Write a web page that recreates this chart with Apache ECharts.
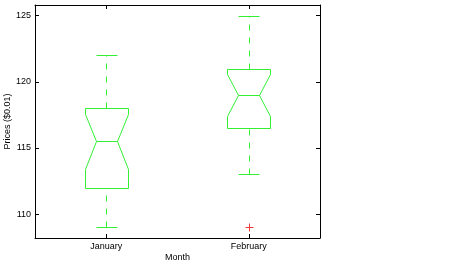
<!DOCTYPE html>
<html>
<head>
<meta charset="utf-8">
<script src="https://cdn.jsdelivr.net/npm/echarts@6/dist/echarts.min.js"></script>
<style>
  html, body { margin: 0; padding: 0; background: #fff; }
  #chart { width: 465px; height: 265px; }
</style>
</head>
<body>
<div id="chart"></div>
<script>
// Monthly price distribution (notched box plot)
const months        = ['January', 'February'];
const lowerWhisker  = [109, 113];
const q1            = [112, 116.5];
const notchLow      = [113.4, 117.4];
const medians       = [115.5, 119];
const notchHigh     = [117.6, 120.6];
const q3            = [118, 121];
const upperWhisker  = [122, 125];
// outliers: [month index, price]
const outliers      = [[1, 109]];
const yTicks        = [110, 115, 120, 125];

const GREEN = '#33f033';
const RED = '#f03a3a';
const FONT = 'Liberation Sans, Arial, sans-serif';

const boxData = months.map((m, i) => [i, lowerWhisker[i], q1[i], notchLow[i], medians[i], notchHigh[i], q3[i], upperWhisker[i]]);

const snap = v => Math.round(v) + 0.5;

function renderBox(params, api) {
  const idx = api.value(0);
  const band = api.size([1, 0])[0];
  const w = band * 0.15;
  const cx = api.coord([idx, 0])[0];
  const y = k => snap(api.coord([idx, api.value(k)])[1]);
  const yLw = y(1), yQ1 = y(2), yNl = y(3), yMed = y(4), yNh = y(5), yQ3 = y(6), yUw = y(7);
  const xl = snap(cx - w), xr = snap(cx + w);
  const xnl = snap(cx - w / 2), xnr = snap(cx + w / 2);
  const xc = snap(cx);
  const solid = { stroke: GREEN, lineWidth: 1, fill: null };
  const dashed = { stroke: GREEN, lineWidth: 1, lineDash: [6, 7] };
  return {
    type: 'group',
    children: [
      { type: 'polygon', shape: { points: [
          [xl, yQ1], [xl, yNl], [xnl, yMed], [xl, yNh], [xl, yQ3],
          [xr, yQ3], [xr, yNh], [xnr, yMed], [xr, yNl], [xr, yQ1]
        ] }, style: solid },
      { type: 'line', shape: { x1: xnl, y1: yMed, x2: xnr, y2: yMed }, style: solid },
      // whiskers drawn upward from their lower end
      { type: 'line', shape: { x1: xc, y1: yLw, x2: xc, y2: yQ1 }, style: dashed },
      { type: 'line', shape: { x1: xc, y1: yQ3, x2: xc, y2: yUw }, style: dashed },
      { type: 'line', shape: { x1: xnl, y1: yLw, x2: xnr, y2: yLw }, style: solid },
      { type: 'line', shape: { x1: xnl, y1: yUw, x2: xnr, y2: yUw }, style: solid }
    ]
  };
}

function renderOutlier(params, api) {
  const p = api.coord([api.value(0), api.value(1)]);
  const x = snap(p[0]), y = snap(p[1]), r = 4;
  const st = { stroke: RED, lineWidth: 1 };
  return {
    type: 'group',
    children: [
      { type: 'line', shape: { x1: x - r, y1: y, x2: x + r, y2: y }, style: st },
      { type: 'line', shape: { x1: x, y1: y - r, x2: x, y2: y + r }, style: st }
    ]
  };
}

const chart = echarts.init(document.getElementById('chart'), null, { renderer: 'canvas' });
const axisLine = { show: true, onZero: false, lineStyle: { color: '#000', width: 1 } };
const tickInside = { show: true, inside: true, length: 4, lineStyle: { color: '#000' } };
chart.setOption({
  animation: false,
  backgroundColor: '#fff',
  textStyle: { fontFamily: FONT },
  grid: { left: 35, top: 5, width: 285, height: 233, containLabel: false, outerBoundsMode: 'none' },
  xAxis: [
    {
      type: 'category', data: months, position: 'bottom',
      name: 'Month', nameLocation: 'middle', nameGap: 15, nameMoveOverlap: false,
      nameTextStyle: { color: '#000', fontSize: 9, fontFamily: FONT },
      axisLine, axisTick: Object.assign({ alignWithLabel: true }, tickInside),
      axisLabel: { color: '#000', fontSize: 9, fontFamily: FONT, margin: 4 },
      splitLine: { show: false }
    },
    {
      type: 'category', data: months, position: 'top',
      axisLine, axisTick: Object.assign({ alignWithLabel: true }, tickInside),
      axisLabel: { show: false }, splitLine: { show: false }
    }
  ],
  yAxis: [
    {
      type: 'value', min: 108.2, max: 125.8, position: 'left',
      name: 'Prices ($0.01)', nameLocation: 'middle', nameGap: 23, nameMoveOverlap: false,
      nameTextStyle: { color: '#000', fontSize: 9, fontFamily: FONT },
      axisLine,
      axisTick: Object.assign({ customValues: yTicks }, tickInside),
      axisLabel: { color: '#000', fontSize: 9, fontFamily: FONT, margin: 4, customValues: yTicks },
      splitLine: { show: false }
    },
    {
      type: 'value', min: 108.2, max: 125.8, position: 'right',
      axisLine,
      axisTick: Object.assign({ customValues: yTicks }, tickInside),
      axisLabel: { show: false, customValues: yTicks },
      splitLine: { show: false }
    }
  ],
  series: [
    { type: 'custom', renderItem: renderBox, data: boxData, encode: { x: 0, y: [1, 7] }, silent: true },
    { type: 'custom', renderItem: renderOutlier, data: outliers, encode: { x: 0, y: 1 }, silent: true }
  ]
});
</script>
</body>
</html>
